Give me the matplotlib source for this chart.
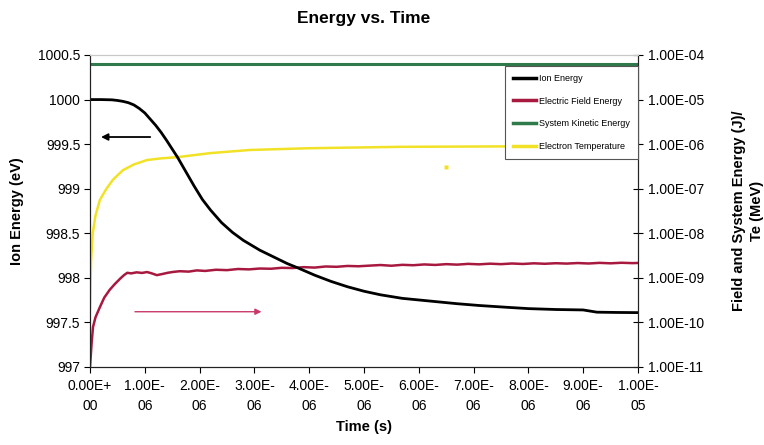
import matplotlib
matplotlib.use("Agg")
import matplotlib.pyplot as plt
import numpy as np

plt.rcParams['font.family'] = ['Liberation Sans', 'DejaVu Sans']

# ---- data ----
# Ion energy (eV), left axis
ion_t_us = [0.0, 0.2, 0.4, 0.5, 0.6, 0.7, 0.8, 0.9, 1.0, 1.1, 1.2, 1.3, 1.4, 1.6, 1.75,
            1.9, 2.05, 2.2, 2.4, 2.6, 2.8, 3.1, 3.3, 3.6, 3.8, 4.1, 4.4, 4.7, 5.0, 5.3,
            5.7, 6.2, 6.7, 7.1, 7.6, 8.0, 8.5, 9.0, 9.25, 9.6, 10.0]
ion_energy = [1000.0, 1000.0, 999.997, 999.99, 999.98, 999.965, 999.94, 999.9, 999.85,
              999.78, 999.71, 999.63, 999.54, 999.35, 999.19, 999.03, 998.88, 998.76,
              998.62, 998.51, 998.42, 998.31, 998.25, 998.16, 998.11, 998.03, 997.96,
              997.9, 997.85, 997.81, 997.77, 997.74, 997.71, 997.69, 997.67, 997.655,
              997.645, 997.64, 997.615, 997.612, 997.61]

# Electric field energy (J), right axis
ef_t_us = [0.0, 0.03, 0.055, 0.1, 0.18, 0.26, 0.36, 0.45, 0.55, 0.62, 0.68, 0.75, 0.85, 0.95,
           1.04, 1.12, 1.22, 1.32, 1.42, 1.52, 1.64, 1.8, 1.95, 2.1, 2.3, 2.5, 2.7, 2.9, 3.1,
           3.3, 3.5, 3.7, 3.9, 4.1, 4.3, 4.5, 4.7, 4.9, 5.1, 5.3, 5.5, 5.7, 5.9, 6.1, 6.3,
           6.5, 6.7, 6.9, 7.1, 7.3, 7.5, 7.7, 7.9, 8.1, 8.3, 8.5, 8.7, 8.9, 9.1, 9.3, 9.5,
           9.7, 9.9, 10.0]
ef_energy = [1.0e-11, 3.5e-11, 7.9e-11, 1.3e-10, 2.2e-10, 3.6e-10, 5.4e-10, 7.2e-10, 9.6e-10,
             1.15e-09, 1.30e-09, 1.26e-09, 1.33e-09, 1.29e-09, 1.35e-09, 1.27e-09, 1.15e-09,
             1.22e-09, 1.30e-09, 1.36e-09, 1.41e-09, 1.38e-09, 1.47e-09, 1.43e-09, 1.52e-09,
             1.49e-09, 1.58e-09, 1.55e-09, 1.62e-09, 1.60e-09, 1.68e-09, 1.66e-09, 1.74e-09,
             1.70e-09, 1.80e-09, 1.77e-09, 1.85e-09, 1.82e-09, 1.88e-09, 1.94e-09, 1.87e-09,
             1.96e-09, 1.92e-09, 2.00e-09, 1.95e-09, 2.03e-09, 1.98e-09, 2.06e-09, 2.01e-09,
             2.08e-09, 2.03e-09, 2.10e-09, 2.05e-09, 2.12e-09, 2.07e-09, 2.13e-09, 2.09e-09,
             2.15e-09, 2.10e-09, 2.17e-09, 2.12e-09, 2.18e-09, 2.14e-09, 2.16e-09]

# System kinetic energy (J), right axis
ke_t_us = [0.0, 2.5, 5.0, 7.5, 10.0]
ke_energy = [6.3e-05, 6.3e-05, 6.3e-05, 6.3e-05, 6.3e-05]

# Electron temperature (MeV), right axis
te_t_us = [0.0, 0.01, 0.02, 0.05, 0.1, 0.18, 0.3, 0.42, 0.6, 0.8, 1.04, 1.3, 1.59, 2.2,
           2.92, 4.0, 5.66, 7.5, 10.0]
te_value = [2.0e-10, 8.0e-10, 2.5e-09, 1.0e-08, 2.5e-08, 5.6e-08, 1.0e-07, 1.6e-07, 2.6e-07,
            3.5e-07, 4.4e-07, 4.8e-07, 5.1e-07, 6.3e-07, 7.4e-07, 8.1e-07, 8.7e-07,
            8.9e-07, 9.1e-07]
te_stray_t_us = [6.5]
te_stray_value = [3.1e-07]

series_labels = ['Ion Energy', 'Electric Field Energy', 'System Kinetic Energy',
                 'Electron Temperature']
x_ticks_us = [0, 1, 2, 3, 4, 5, 6, 7, 8, 9, 10]
left_ticks = [997, 997.5, 998, 998.5, 999, 999.5, 1000, 1000.5]
right_ticks = [1e-11, 1e-10, 1e-9, 1e-8, 1e-7, 1e-6, 1e-5, 1e-4]

# ---- plotting ----
us = 1e-6
fig = plt.figure(figsize=(7.64, 4.45), dpi=100)
ax = fig.add_axes([90/764, 1-367/445, 548/764, 312/445])
ax2 = ax.twinx()

c_ion = '#000000'
c_ef = '#a8193f'
c_ke = '#2f7a4a'
c_te = '#f2e227'

l_ef, = ax2.plot(np.array(ef_t_us)*us, ef_energy, color=c_ef, lw=1.8)
l_ke, = ax2.plot(np.array(ke_t_us)*us, ke_energy, color=c_ke, lw=2.2)
l_te, = ax2.plot(np.array(te_t_us)*us, te_value, color=c_te, lw=1.8)
ax2.plot(np.array(te_stray_t_us)*us, te_stray_value, 's', color=c_te, ms=2.5, mec='none')
l_ion, = ax.plot(np.array(ion_t_us)*us, ion_energy, color=c_ion, lw=2.0)

ax.set_zorder(ax2.get_zorder() + 1)
ax.patch.set_visible(False)

ax.set_xlim(0, 10*us)
ax.set_ylim(997, 1000.5)
ax2.set_yscale('log')
ax2.set_ylim(1e-11, 1e-4)

ax.set_xticks(np.array(x_ticks_us)*us)
xlabels = []
for v in x_ticks_us:
    s = f"{v*us:.2E}"
    mant, exp = s.split('E')
    xlabels.append(f"{mant}E{exp[0]}\n{exp[1:]}")
ax.set_xticklabels(xlabels, fontsize=10, linespacing=1.5)

ax.set_yticks(left_ticks)
ax.set_yticklabels([f"{v:g}" for v in left_ticks], fontsize=10)
ax2.set_yticks(right_ticks)
ax2.set_yticklabels([f"{v:.2E}" for v in right_ticks], fontsize=10)
ax2.yaxis.set_minor_locator(matplotlib.ticker.NullLocator())

ax.tick_params(axis='x', direction='out', length=4, width=0.8, pad=5)
ax.tick_params(axis='y', direction='out', length=4, width=0.8, pad=3)
ax2.tick_params(axis='y', direction='inout', length=7, width=0.8, pad=4)

for a in (ax, ax2):
    a.spines['top'].set_color('#c8c8c8')
    a.spines['top'].set_linestyle((0, (2, 1)))
    a.spines['left'].set_color('#222222')
    a.spines['bottom'].set_color('#222222')
    a.spines['right'].set_color('#222222')

ax.set_xlabel('Time (s)', fontsize=10.5, fontweight='bold', labelpad=5)
ax.set_ylabel('Ion Energy (eV)', fontsize=10.5, fontweight='bold', labelpad=10)
ax2.set_ylabel('Field and System Energy (J)/\nTe (MeV)', fontsize=10.5,
               fontweight='bold', labelpad=20, linespacing=1.3)
fig.suptitle('Energy vs. Time', fontsize=12.5, fontweight='bold', x=364/764, y=1-18/445,
             va='center')

# annotation arrows
ax.annotate('', xy=(0.15*us, 999.58), xytext=(1.15*us, 999.58),
            arrowprops=dict(arrowstyle='-|>', color='black', lw=1.3, mutation_scale=10))
ax.annotate('', xy=(3.18*us, 997.62), xytext=(0.77*us, 997.62),
            arrowprops=dict(arrowstyle='-|>', color='#c8396a', lw=1.0, mutation_scale=9))

leg = ax.legend([l_ion, l_ef, l_ke, l_te], series_labels, loc='upper right',
                bbox_to_anchor=(1.0, 0.965), borderaxespad=0, fontsize=6.5,
                labelspacing=1.5, handlelength=2.6, handletextpad=0.3,
                borderpad=0.9, fancybox=False, framealpha=1, edgecolor='#555555')
leg.get_frame().set_linewidth(0.8)
for h in leg.get_lines():
    h.set_linewidth(2.5)

fig.savefig('out.png', dpi=100)
